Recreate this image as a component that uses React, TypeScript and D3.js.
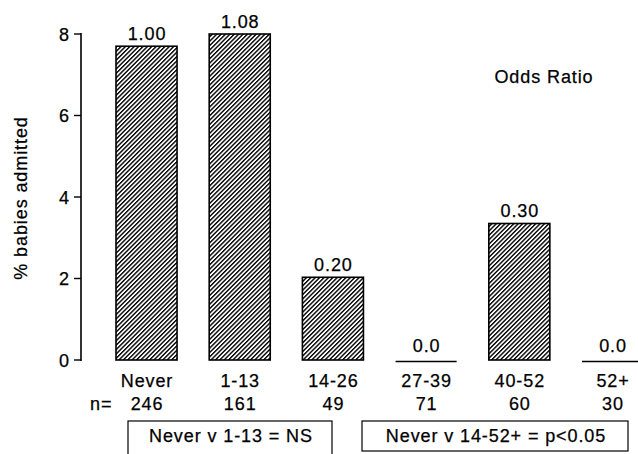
import React, { useEffect, useRef } from 'react';
import * as d3 from 'd3';

const categories = ['Never', '1-13', '14-26', '27-39', '40-52', '52+'];
const counts = [246, 161, 49, 71, 60, 30];
const percentAdmitted = [7.7, 8.0, 2.03, 0, 3.35, 0];
const oddsRatios = ['1.00', '1.08', '0.20', '0.0', '0.30', '0.0'];
const yTicks = [0, 2, 4, 6, 8];
const comparisons = [
  { label: 'Never v 1-13 = NS', from: 'Never', to: '1-13' },
  { label: 'Never v 14-52+ = p<0.05', from: '27-39', to: '52+' },
];

const FONT = '"Liberation Sans", Arial, Helvetica, sans-serif';

export default function App() {
  const ref = useRef<SVGSVGElement | null>(null);

  useEffect(() => {
    const width = 638;
    const height = 454;
    const svg = d3.select(ref.current);
    svg.selectAll('*').remove();
    svg.attr('width', width).attr('height', height);

    const defs = svg.append('defs');
    defs
      .append('pattern')
      .attr('id', 'hatch')
      .attr('patternUnits', 'userSpaceOnUse')
      .attr('width', 3.1)
      .attr('height', 10)
      .attr('patternTransform', 'rotate(45)')
      .append('rect')
      .attr('x', 0)
      .attr('y', 0)
      .attr('width', 1.4)
      .attr('height', 10)
      .attr('fill', '#000');

    // step ~93.2px, bar width ~61px, first bar at x=116
    const step = 93.2;
    const pad = 0.345;
    const x = d3
      .scaleBand<string>()
      .domain(categories)
      .range([116, 116 + (categories.length - pad) * step])
      .paddingInner(pad)
      .paddingOuter(0);

    const y = d3.scaleLinear().domain([0, 8]).range([360, 34]);

    const text = (sel: any) =>
      sel
        .attr('font-family', FONT)
        .attr('font-size', 18)
        .attr('letter-spacing', 0.9)
        .attr('fill', '#000')
        .attr('stroke', '#000')
        .attr('stroke-width', 0.25);

    // y axis
    const axis = svg.append('g');
    axis
      .append('line')
      .attr('x1', 81)
      .attr('x2', 81)
      .attr('y1', y(8) - 1)
      .attr('y2', y(0) + 1)
      .attr('stroke', '#000')
      .attr('stroke-width', 1.6);
    axis
      .selectAll('line.tick')
      .data(yTicks)
      .join('line')
      .attr('class', 'tick')
      .attr('x1', 74)
      .attr('x2', 81)
      .attr('y1', (d) => y(d))
      .attr('y2', (d) => y(d))
      .attr('stroke', '#000')
      .attr('stroke-width', 1.4);
    axis
      .selectAll('text')
      .data(yTicks)
      .join('text')
      .call(text)
      .attr('x', 70)
      .attr('y', (d) => y(d) + 6.5)
      .attr('text-anchor', 'end')
      .text((d) => d);

    svg
      .append('text')
      .call(text)
      .attr('transform', 'translate(27,198) rotate(-90)')
      .attr('text-anchor', 'middle')
      .text('% babies admitted');

    // bars
    const bars = svg.append('g');
    categories.forEach((c, i) => {
      const v = percentAdmitted[i];
      const x0 = x(c)!;
      const w = x.bandwidth();
      if (v > 0) {
        bars
          .append('rect')
          .attr('x', x0)
          .attr('y', y(v))
          .attr('width', w)
          .attr('height', y(0) - y(v))
          .attr('fill', 'url(#hatch)')
          .attr('stroke', '#000')
          .attr('stroke-width', 1.6);
      } else {
        bars
          .append('line')
          .attr('x1', x0)
          .attr('x2', x0 + w)
          .attr('y1', y(0) + 1.5)
          .attr('y2', y(0) + 1.5)
          .attr('stroke', '#000')
          .attr('stroke-width', 1.4);
      }
      const cx = x0 + w / 2 + 0.5;
      bars
        .append('text')
        .call(text)
        .attr('x', cx)
        .attr('y', y(v) - (v > 0 ? 6 : 8))
        .attr('text-anchor', 'middle')
        .text(oddsRatios[i]);
      bars
        .append('text')
        .call(text)
        .attr('x', cx)
        .attr('y', 387)
        .attr('text-anchor', 'middle')
        .text(c);
      bars
        .append('text')
        .call(text)
        .attr('x', cx)
        .attr('y', 410)
        .attr('text-anchor', 'middle')
        .text(counts[i]);
    });

    svg
      .append('text')
      .call(text)
      .attr('x', 90)
      .attr('y', 410)
      .text('n=');

    svg
      .append('text')
      .call(text)
      .attr('x', 544)
      .attr('y', 83)
      .attr('text-anchor', 'middle')
      .text('Odds Ratio');

    // comparison boxes
    const boxes = [
      { x0: 128, x1: 332, bottom: 462 },
      { x0: 362, x1: 628, bottom: 451 },
    ];
    comparisons.forEach((cmp, i) => {
      const b = boxes[i];
      svg
        .append('rect')
        .attr('x', b.x0)
        .attr('y', 421)
        .attr('width', b.x1 - b.x0)
        .attr('height', b.bottom - 421)
        .attr('fill', 'none')
        .attr('stroke', '#000')
        .attr('stroke-width', 1.2);
      svg
        .append('text')
        .call(text)
        .attr('x', (b.x0 + b.x1) / 2 + 1)
        .attr('y', 442)
        .attr('text-anchor', 'middle')
        .text(cmp.label);
    });
  }, []);

  return (
    <svg
      ref={ref}
      style={{ position: 'absolute', left: 0, top: 0, background: '#fff' }}
    />
  );
}
